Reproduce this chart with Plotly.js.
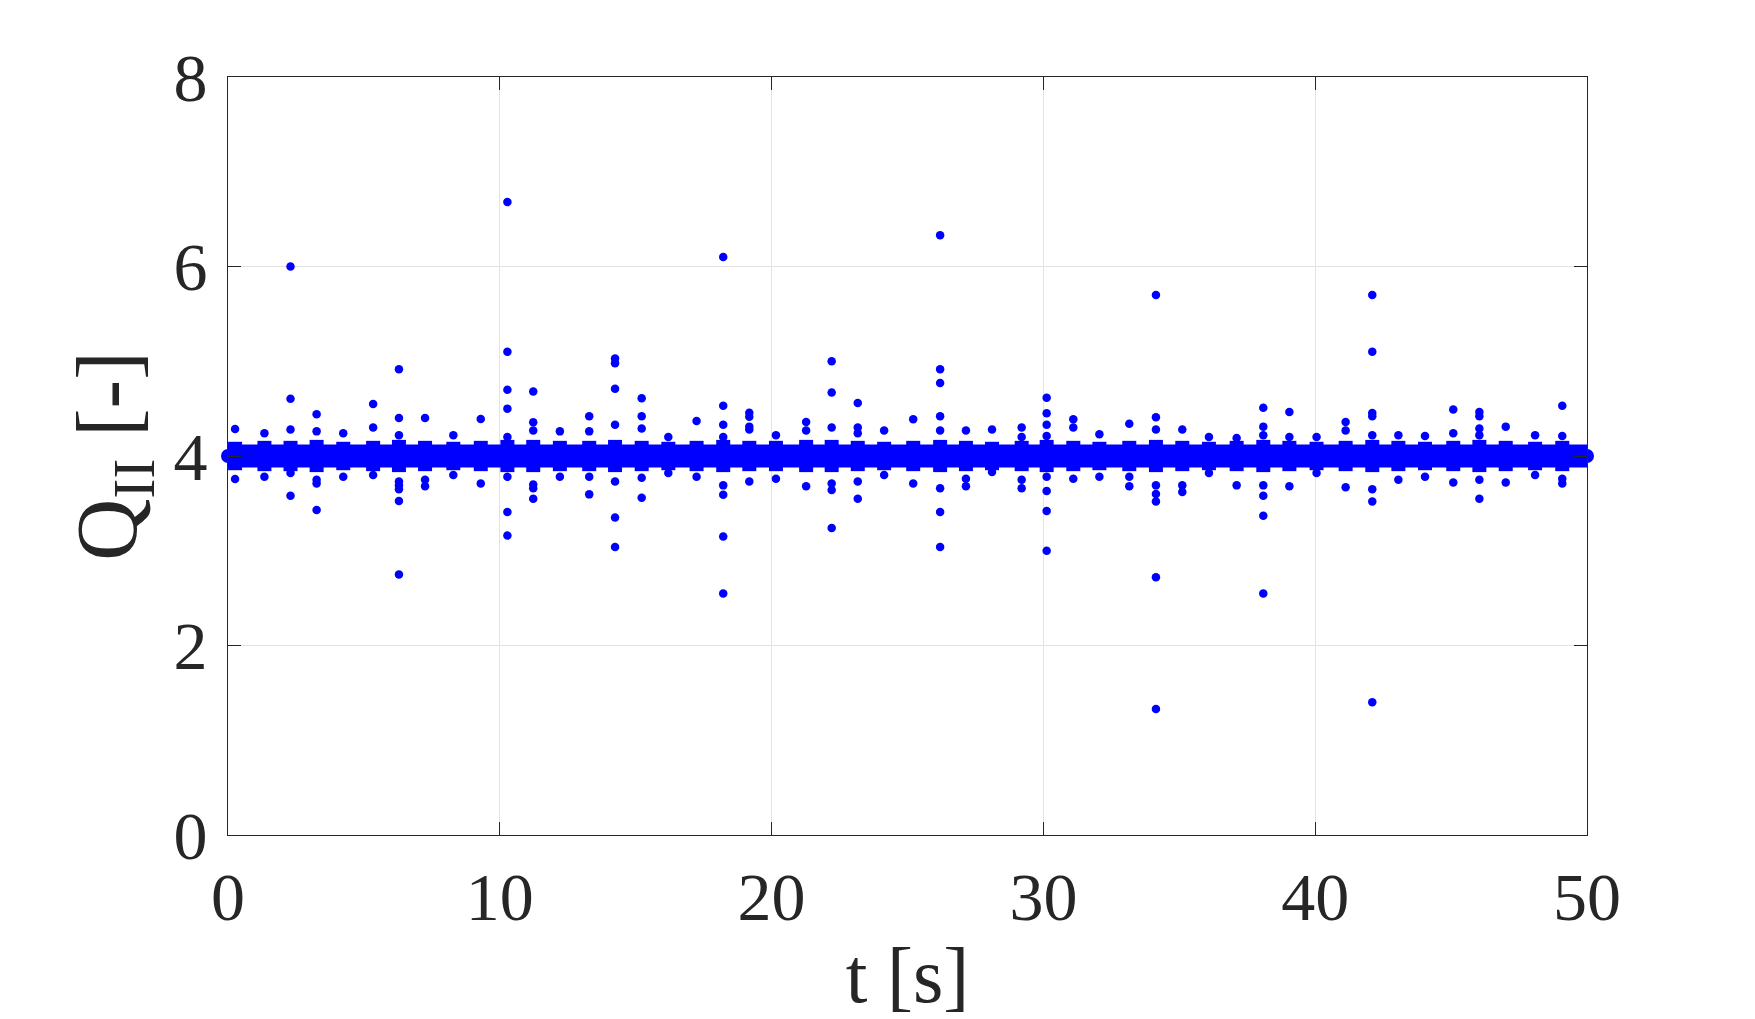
<!DOCTYPE html>
<html>
<head>
<meta charset="utf-8">
<script src="https://cdn.plot.ly/plotly-3.0.1.min.js"></script>
<style>
  html, body { margin: 0; padding: 0; background: #ffffff; }
  #chart { width: 1755px; height: 1019px; }
</style>
</head>
<body>
<div id="chart"></div>
<script>
// ---- Data ----
// Dense base band of Q_II around 4 over the whole record
const bandT = [0, 50];
const bandQ = [4.0, 4.0];

// Times (s) of the periodic bursts (about one per second)
const burstT = [0.26, 1.34, 2.30, 3.26, 4.24, 5.34, 6.29, 7.25, 8.29, 9.30,
                10.28, 11.23, 12.21, 13.29, 14.24, 15.22, 16.20, 17.24, 18.22, 19.18,
                20.16, 21.27, 22.21, 23.17, 24.14, 25.21, 26.20, 27.15, 28.11, 29.20,
                30.12, 31.10, 32.06, 33.16, 34.14, 35.11, 36.09, 37.11, 38.09, 39.05,
                40.05, 41.12, 42.10, 43.06, 44.04, 45.08, 46.04, 47.01, 48.09, 49.09];

// Extent of the merged (overlapping) cluster of each burst
const burstLo = [3.85, 3.84, 3.84, 3.83, 3.85, 3.84, 3.83, 3.84, 3.85, 3.84,
                 3.83, 3.83, 3.84, 3.84, 3.83, 3.84, 3.85, 3.84, 3.83, 3.84,
                 3.84, 3.83, 3.83, 3.84, 3.85, 3.84, 3.83, 3.84, 3.85, 3.84,
                 3.83, 3.84, 3.85, 3.84, 3.83, 3.84, 3.85, 3.84, 3.83, 3.84,
                 3.85, 3.84, 3.83, 3.84, 3.85, 3.84, 3.83, 3.84, 3.85, 3.84];
const burstHi = [4.15, 4.16, 4.16, 4.17, 4.15, 4.16, 4.17, 4.16, 4.15, 4.16,
                 4.17, 4.17, 4.16, 4.16, 4.17, 4.16, 4.15, 4.16, 4.17, 4.16,
                 4.16, 4.17, 4.17, 4.16, 4.15, 4.16, 4.17, 4.16, 4.15, 4.16,
                 4.17, 4.16, 4.15, 4.16, 4.17, 4.16, 4.15, 4.16, 4.17, 4.16,
                 4.15, 4.16, 4.17, 4.16, 4.15, 4.16, 4.17, 4.16, 4.15, 4.16];

// Individual samples of each burst outside the merged cluster
const burstDots = [
  [4.285, 3.757],
  [4.24, 3.78],
  [6.00, 4.605, 4.28, 3.82, 3.58],
  [4.44, 4.26, 3.75, 3.71, 3.43],
  [4.24, 3.78],
  [4.55, 4.30, 3.80],
  [4.915, 4.40, 4.22, 3.73, 3.69, 3.65, 3.525, 2.75],
  [4.40, 3.75, 3.68],
  [4.22, 3.80],
  [4.39, 3.71],
  [6.68, 5.10, 4.70, 4.50, 4.20, 3.78, 3.41, 3.16],
  [4.68, 4.355, 4.27, 3.70, 3.66, 3.55],
  [4.26, 3.78],
  [4.42, 4.26, 3.78, 3.595],
  [5.03, 4.98, 4.71, 4.33, 3.73, 3.35, 3.04],
  [4.61, 4.42, 4.29, 3.77, 3.56],
  [4.20, 3.82],
  [4.37, 3.78],
  [6.10, 4.53, 4.33, 4.20, 3.69, 3.59, 3.15, 2.55],
  [4.457, 4.415, 4.31, 4.28, 3.73],
  [4.22, 3.76],
  [4.36, 4.27, 3.68],
  [5.00, 4.67, 4.30, 3.71, 3.64, 3.24],
  [4.56, 4.30, 4.24, 3.73, 3.55],
  [4.27, 3.80],
  [4.387, 3.71],
  [6.33, 4.915, 4.77, 4.42, 4.27, 3.66, 3.41, 3.04],
  [4.27, 3.76, 3.68],
  [4.28, 3.83],
  [4.30, 4.20, 3.75, 3.66],
  [4.615, 4.45, 4.33, 4.21, 3.78, 3.63, 3.42, 3.00],
  [4.387, 4.30, 3.76],
  [4.23, 3.78],
  [4.34, 3.78, 3.68],
  [5.70, 4.41, 4.28, 3.69, 3.60, 3.52, 2.72, 1.33],
  [4.28, 3.69, 3.62],
  [4.20, 3.82],
  [4.19, 3.69],
  [4.51, 4.31, 4.22, 3.69, 3.58, 3.37, 2.55],
  [4.465, 4.20, 3.68],
  [4.20, 3.82],
  [4.36, 4.27, 3.67],
  [5.70, 5.10, 4.455, 4.42, 4.22, 3.65, 3.52, 1.40],
  [4.22, 3.75],
  [4.21, 3.78],
  [4.49, 4.24, 3.72],
  [4.465, 4.42, 4.29, 4.22, 3.75, 3.55],
  [4.31, 3.72],
  [4.22, 3.80],
  [4.53, 4.21, 3.76, 3.71]
];

const xTickVals = [0, 10, 20, 30, 40, 50];
const yTickVals = [0, 2, 4, 6, 8];

// ---- Build traces from the data ----
const BLUE = '#0000ff';
const segX = [], segY = [];
burstT.forEach((t, i) => { segX.push(t, t, null); segY.push(burstLo[i], burstHi[i], null); });
const dotX = [], dotY = [];
burstDots.forEach((vals, i) => vals.forEach(v => { dotX.push(burstT[i]); dotY.push(v); }));

const traces = [
  { type: 'scatter', mode: 'lines+markers', x: bandT, y: bandQ,
    line: { color: BLUE, width: 23 }, marker: { color: BLUE, size: 14 },
    cliponaxis: false, hoverinfo: 'skip', showlegend: false },
  { type: 'scatter', mode: 'lines', x: segX, y: segY, connectgaps: false,
    line: { color: BLUE, width: 14 }, hoverinfo: 'skip', showlegend: false },
  { type: 'scatter', mode: 'markers', x: dotX, y: dotY,
    marker: { color: BLUE, size: 8.5 }, cliponaxis: false, showlegend: false }
];

const FONT = 'Liberation Serif';
const AX = '#262626';

const layout = {
  width: 1755, height: 1019,
  paper_bgcolor: '#ffffff', plot_bgcolor: '#ffffff',
  margin: { l: 228, r: 168, t: 77, b: 184 },
  font: { family: FONT, color: AX, size: 68 },
  showlegend: false,
  xaxis: {
    range: [0, 50], tickvals: xTickVals, ticktext: xTickVals.map(String),
    ticks: 'inside', ticklen: 13, tickwidth: 1, tickcolor: AX,
    showline: true, linecolor: AX, linewidth: 1, mirror: 'ticks',
    showgrid: true, gridcolor: '#e3e3e3', gridwidth: 1, zeroline: false,
    tickfont: { family: FONT, size: 68, color: AX }, ticklabelstandoff: 2,
    title: { text: 't [s]', font: { family: FONT, size: 78, color: AX }, standoff: 32 }
  },
  yaxis: {
    range: [0, 8], tickvals: yTickVals, ticktext: yTickVals.map(String),
    ticks: 'inside', ticklen: 13, tickwidth: 1, tickcolor: AX,
    showline: true, linecolor: AX, linewidth: 1, mirror: 'ticks',
    showgrid: true, gridcolor: '#e3e3e3', gridwidth: 1, zeroline: false,
    tickfont: { family: FONT, size: 68, color: AX }, ticklabelstandoff: 6,
    title: { text: 'Q<sub>II</sub> [-]', font: { family: FONT, size: 86, color: AX }, standoff: 8 }
  }
};

Plotly.newPlot('chart', traces, layout, { displayModeBar: false, staticPlot: true });
</script>
</body>
</html>
